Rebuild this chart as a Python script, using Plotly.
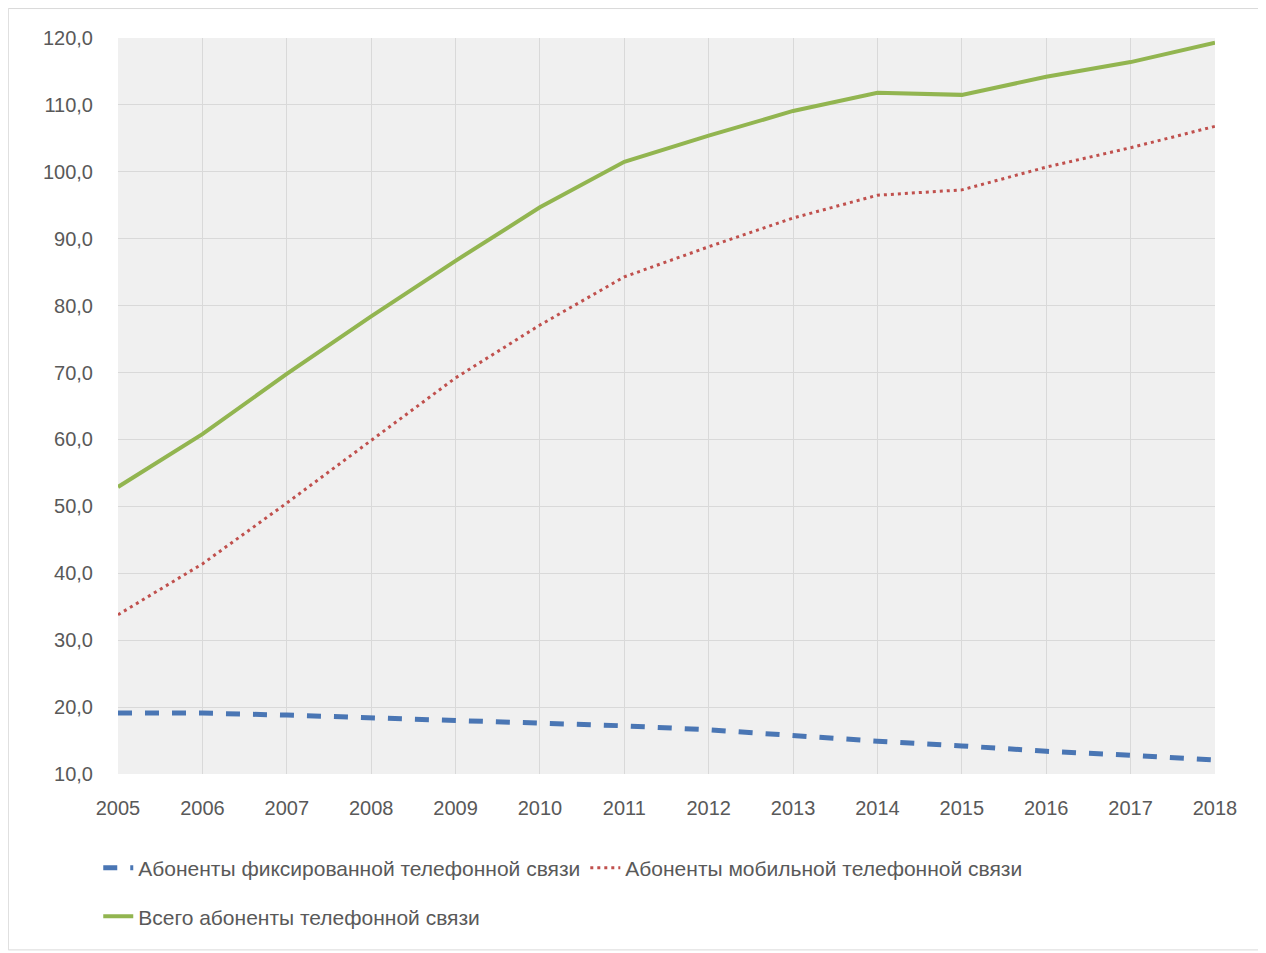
import plotly.graph_objects as go

years = [2005, 2006, 2007, 2008, 2009, 2010, 2011, 2012, 2013, 2014, 2015, 2016, 2017, 2018]
fixed = [19.1, 19.1, 18.8, 18.4, 18.1, 17.6, 17.2, 16.6, 15.7, 14.9, 14.2, 13.4, 12.8, 12.1]
mobile = [33.8, 41.4, 50.5, 59.9, 69.2, 77.1, 84.3, 88.8, 93.1, 96.5, 97.3, 100.7, 103.6, 106.8]
total = [52.9, 60.8, 69.8, 78.4, 86.7, 94.7, 101.5, 105.4, 109.1, 111.8, 111.5, 114.2, 116.4, 119.3]

names = ["Абоненты фиксированной телефонной связи",
         "Абоненты мобильной телефонной связи",
         "Всего абоненты телефонной связи"]

FONT = "Liberation Sans, Arial, sans-serif"
TXT = "#595959"

fig = go.Figure()
fig.add_trace(go.Scatter(x=years, y=fixed, mode="lines", name=names[0],
                         line=dict(color="#4A76B4", width=5, dash="14px,13px"),
                         legend="legend"))
fig.add_trace(go.Scatter(x=years, y=mobile, mode="lines", name=names[1],
                         line=dict(color="#C0504D", width=3, dash="3px,4px"),
                         legend="legend"))
fig.add_trace(go.Scatter(x=years, y=total, mode="lines", name=names[2],
                         line=dict(color="#92B550", width=4),
                         legend="legend2"))

fig.update_layout(
    width=1258, height=945,
    margin=dict(l=110, r=51, t=30, b=179),
    paper_bgcolor="white",
    plot_bgcolor="#F0F0F0",
    separators=", ",
    font=dict(family=FONT, size=20, color=TXT),
    legend=dict(orientation="h", x=-0.018, y=-0.1, xanchor="left", yanchor="top",
                font=dict(family=FONT, size=21, color=TXT), bgcolor="rgba(0,0,0,0)"),
    legend2=dict(orientation="h", x=-0.018, y=-0.166, xanchor="left", yanchor="top",
                 font=dict(family=FONT, size=21, color=TXT), bgcolor="rgba(0,0,0,0)"),
    xaxis=dict(range=[2005, 2018], tickvals=years, ticktext=[str(y) for y in years],
               showgrid=True, gridcolor="#D9D9D9", gridwidth=1, zeroline=False,
               showline=False, ticks="", ticklabelstandoff=20,
               tickfont=dict(size=20, color=TXT)),
    yaxis=dict(range=[10, 120], dtick=10, tickformat=".1f",
               showgrid=True, gridcolor="#D9D9D9", gridwidth=1, zeroline=False,
               showline=False, ticks="", ticklabelstandoff=24,
               tickfont=dict(size=20, color=TXT)),
    shapes=[dict(type="rect", xref="paper", yref="paper",
                 x0=-0.1, x1=1.0428, y0=-0.239, y1=1.04,
                 line=dict(color="#D9D9D9", width=1), fillcolor="rgba(0,0,0,0)", layer="below")],
)

fig.write_html("out.html")
